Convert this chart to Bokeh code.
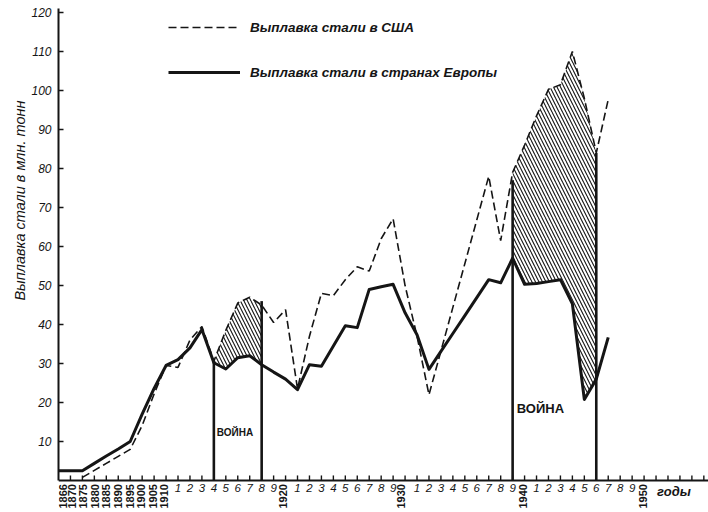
from math import pi, nan
from bokeh.plotting import figure
from bokeh.models import Range1d, FixedTicker, Legend, LegendItem, Span, Title
from bokeh.core.properties import value
from bokeh.embed import file_html
from bokeh.resources import INLINE

# ---- data -------------------------------------------------------------
# tick positions: 0..9 are five-year steps (1866..1910), afterwards one year per step
x_labels = ["1866", "1870", "1875", "1880", "1885", "1890", "1895", "1900", "1905", "1910",
            "1", "2", "3", "4", "5", "6", "7", "8", "9", "1920",
            "1", "2", "3", "4", "5", "6", "7", "8", "9", "1930",
            "1", "2", "3", "4", "5", "6", "7", "8", "9", "1940",
            "1", "2", "3", "4", "5", "6", "7", "8", "9", "1950"]
n_ticks = 55
unit_label = "годы"
unit_label_pos = 51.5

# steel output, million tonnes, one value per tick position (1866 .. 1947)
europe = [2.5, 2.5, 2.5, 4.4, 6.3, 8.1, 10.0, 17.0, 23.6, 29.5,
          31.0, 34.0, 38.7, 30.2, 28.6, 31.5, 32.0, 29.7, 27.8, 26.0,
          23.3, 29.7, 29.3, 34.5, 39.7, 39.2, 49.0, 49.7, 50.3, 43.0,
          37.4, 28.5, 33.1, 37.7, 42.3, 46.9, 51.5, 50.7, 57.0, 50.3,
          50.5, 51.0, 51.5, 45.3, 20.8, 26.0, 36.7]
usa = [nan, nan, 0.8, 2.6, 4.4, 6.2, 8.0, 14.1, 22.2, 29.5,
       29.0, 36.0, 39.5, 30.6, 38.5, 45.5, 47.0, 45.0, 40.5, 43.8,
       23.5, 37.0, 48.0, 47.4, 51.5, 54.8, 53.7, 62.0, 67.1, 50.0,
       37.0, 22.0, 33.2, 44.4, 55.6, 66.8, 78.0, 61.5, 79.0, 86.0,
       93.5, 100.3, 101.5, 110.0, 98.0, 84.0, 97.7]

war_pos = [13, 17, 38, 45]          # 1914, 1918, 1939, 1946
war_top = [30.5, 46.0, 77.0, 84.0]
war_periods = [(13, 17), (38, 45)]
war_text = ["ВОЙНА", "ВОЙНА"]
war_text_x = [13.25, 38.35]
war_text_y = [12.3, 18.5]
war_text_size = ["10px", "13px"]

y_ticks = [10, 20, 30, 40, 50, 60, 70, 80, 90, 100, 110, 120]

label_usa = "Выплавка стали в США"
label_eu = "Выплавка стали в странах Европы"
y_title = "Выплавка стали в млн. тонн"

# ---- figure -----------------------------------------------------------
FONT = "Liberation Sans"
INK = "#151515"

p = figure(width=708, height=512, output_backend="svg", toolbar_location=None,
           x_range=Range1d(0, 54.39), y_range=Range1d(-8.2, 123.08),
           x_axis_location=None, min_border_left=58, min_border_right=0,
           min_border_top=0, min_border_bottom=0)
p.outline_line_color = None
p.grid.visible = False
p.background_fill_color = "white"
p.border_fill_color = "white"

ax = p.yaxis[0]
ax.ticker = FixedTicker(ticks=y_ticks)
ax.bounds = (0, 121)
ax.axis_line_width = 2
ax.axis_line_color = INK
ax.major_tick_in = 5
ax.major_tick_out = 0
ax.major_tick_line_width = 1.5
ax.major_tick_line_color = INK
ax.minor_tick_line_color = None
ax.major_label_text_font = FONT
ax.major_label_text_font_style = "italic"
ax.major_label_text_font_size = "12px"
ax.major_label_text_color = INK
ax.major_label_standoff = 7

# y title, placed with its upper end where the original has it
p.add_layout(Title(text=y_title, align="right", offset=100, text_font=FONT,
                   text_font_style="italic", text_font_size="14.5px",
                   text_color=INK, standoff=2), "left")

# x axis: baseline, inward ticks, mixed-orientation labels
p.add_layout(Span(location=0, dimension="width", line_color=INK, line_width=2))
tick_pos = list(range(1, n_ticks))
p.segment(x0=tick_pos, y0=[0] * len(tick_pos), x1=tick_pos, y1=[1.3] * len(tick_pos),
          line_color=INK, line_width=1.4)

rot_x = [i for i, t in enumerate(x_labels) if len(t) == 4]
rot_t = [t for t in x_labels if len(t) == 4]
# small per-label nudges (pixels) copying the hand-set lettering of the original
rot_off = [4, 2, 1, 1, 0, 0, 0, -1, -1, -2, -3, -4, -2, -1]
up_x = [i for i, t in enumerate(x_labels) if len(t) < 4]
up_t = [t for t in x_labels if len(t) < 4]
p.text(x=rot_x, y=[-0.9] * len(rot_x), text=rot_t, angle=pi / 2, x_offset=rot_off,
       text_align="right", text_baseline="middle", text_font=value(FONT),
       text_font_style="bold", text_font_size="11px", text_color=INK)
p.text(x=up_x, y=[-0.9] * len(up_x), text=up_t,
       text_align="center", text_baseline="top", text_font=value(FONT),
       text_font_style="italic", text_font_size="11.5px", text_color=INK)
p.text(x=[unit_label_pos], y=[-0.9], text=[unit_label], text_align="center",
       text_baseline="top", text_font=value(FONT), text_font_style="bold italic",
       text_font_size="13px", text_color=INK)

# hatched areas during the wars
for a, b in war_periods:
    xs = list(range(a, b + 1))
    p.varea(x=xs, y1=europe[a:b + 1], y2=usa[a:b + 1], fill_color=None, fill_alpha=0,
            hatch_pattern="\\", hatch_color=INK, hatch_scale=7, hatch_weight=1.1)

# series
xi = list(range(len(europe)))
r_usa = p.line(xi, usa, line_color=INK, line_width=1.6, line_dash="8 4")
r_eu = p.line(xi, europe, line_color=INK, line_width=3, line_join="round")

# war bars and labels
p.segment(x0=war_pos, y0=[0] * len(war_pos), x1=war_pos, y1=war_top,
          line_color=INK, line_width=2.6)
p.text(x=war_text_x, y=war_text_y, text=war_text, text_align="left",
       text_baseline="middle", text_font=value(FONT), text_font_style="bold",
       text_font_size=war_text_size, text_color=INK)

legend = Legend(items=[LegendItem(label=label_usa, renderers=[r_usa]),
                       LegendItem(label=label_eu, renderers=[r_eu])],
                location=(110, 430), orientation="vertical",
                glyph_width=72, glyph_height=20, label_height=20, label_standoff=10,
                spacing=25, padding=0, margin=0, border_line_color=None,
                background_fill_alpha=0, label_text_font=FONT,
                label_text_font_style="bold italic", label_text_font_size="13.5px",
                label_text_color=INK)
p.add_layout(legend)

open("out.html", "w").write(file_html(p, INLINE))
